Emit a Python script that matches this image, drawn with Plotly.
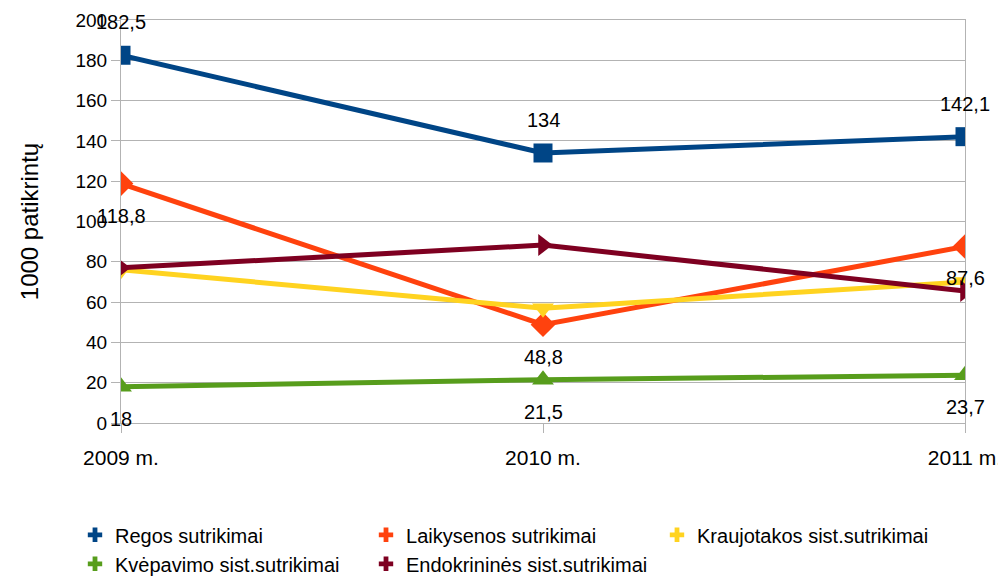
import plotly.graph_objects as go

categories = ["2009 m.", "2010 m.", "2011 m."]
regos = [182.5, 134, 142.1]
laikysenos = [118.8, 48.8, 87.6]
kraujotakos = [76, 57, 70]
kvepavimo = [18, 21.5, 23.7]
endokrinines = [77, 88.3, 65.5]

series = [
    ("Regos sutrikimai", regos, "#004586", "square", 33),
    ("Laikysenos sutrikimai", laikysenos, "#ff420e", "diamond", -32),
    ("Kraujotakos sist.sutrikimai", kraujotakos, "#ffd320", "triangle-down", None),
    ("Kvėpavimo sist.sutrikimai", kvepavimo, "#579d1c", "triangle-up", -32),
    ("Endokrininės sist.sutrikimai", endokrinines, "#7e0021", "triangle-right", None),
]

FONT = "Liberation Sans, Arial, sans-serif"

fig = go.Figure()
annotations = []
for name, vals, color, sym, shift in series:
    fig.add_trace(go.Scatter(
        x=categories, y=vals, mode="lines+markers", name=name, showlegend=False,
        line=dict(color=color, width=5),
        marker=dict(symbol=sym, size=19, color=color),
    ))
    if shift is not None:
        for c, v in zip(categories, vals):
            annotations.append(dict(
                x=c, y=v, xref="x", yref="y", text=f"{v:g}".replace(".", ","),
                showarrow=False, yshift=shift,
                font=dict(family=FONT, size=20, color="#000000"),
            ))

for name, vals, color, sym, shift in series:
    fig.add_trace(go.Scatter(
        x=[None], y=[None], mode="markers", name=name,
        marker=dict(symbol="cross", size=11, color=color),
    ))

fig.update_layout(
    width=1006, height=600,
    margin=dict(l=113, r=49, t=12, b=185),
    paper_bgcolor="white", plot_bgcolor="white",
    font=dict(family=FONT, size=20, color="#000000"),
    annotations=annotations,
    showlegend=True,
    legend=dict(
        orientation="h", x=-0.0545, y=-0.229, xanchor="left", yanchor="top",
        entrywidth=246, font=dict(size=20), tracegroupgap=0,
        itemsizing="constant",
    ),
    xaxis=dict(
        type="category", range=[0, 2], showgrid=False, automargin=False,
        showline=True, linecolor="#b3b3b3", linewidth=1, mirror=True,
        ticks="outside", ticklen=9, tickcolor="#b3b3b3",
        ticklabelstandoff=7,
        tickfont=dict(size=21),
    ),
    yaxis=dict(
        range=[0, 200], dtick=20, showgrid=True, gridcolor="#b3b3b3", gridwidth=1,
        showline=True, linecolor="#b3b3b3", linewidth=1, mirror=True,
        ticks="outside", ticklen=9, tickcolor="#b3b3b3", automargin=False,
        zeroline=False,
        tickfont=dict(size=19),
        title=dict(text="1000 patikrintų", font=dict(size=24), standoff=30),
    ),
)

fig.write_html("out.html")
